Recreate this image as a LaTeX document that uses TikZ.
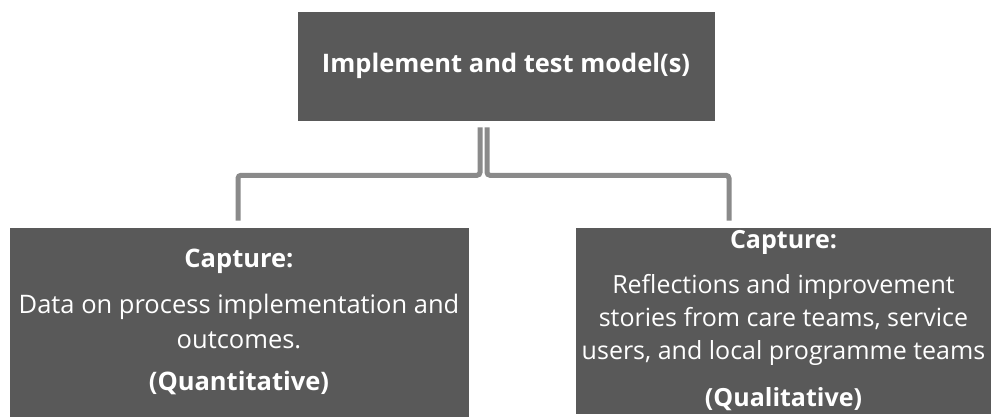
\documentclass[tikz,border=0pt]{standalone}
\usepackage{fontspec}
\setmainfont{Open Sans}
\usetikzlibrary{calc}
\definecolor{boxgray}{HTML}{595959}
\definecolor{linegray}{HTML}{8A8A8A}
\begin{document}
\begin{tikzpicture}[x=1pt,y=-1pt,
  box/.style={rectangle,fill=boxgray,draw=white,line width=0.6pt,text=white,align=center,inner sep=0pt},
  conn/.style={draw=linegray,line width=5pt,rounded corners=3pt,line cap=butt}]
\useasboundingbox[fill=white] (0,0) rectangle (991,416);
\node[box,minimum width=418,minimum height=110,font=\fontsize{25.5}{30}\selectfont\bfseries] (top) at (506,66) {Implement and test model(s)};
\node[box,minimum width=460,minimum height=190,font=\fontsize{25.5}{35.5}\selectfont] (left) at (239,322)
  {\textbf{Capture:}\\[10pt] Data on process implementation and\\ outcomes.\\[6pt] \textbf{(Quantitative)}};
\node[box,minimum width=417,minimum height=187,font=\fontsize{25}{33}\selectfont] (right) at (783.5,320.5)
  {\textbf{Capture:}\\[12pt] Reflections and improvement\\ stories from care teams, service\\ users, and local programme teams\\[14pt] \textbf{(Qualitative)}};
\coordinate (la) at ($(top.south)+(-26,6)$);
\coordinate (lb) at ($(left.north)+(-1,-6)$);
\coordinate (ra) at ($(top.south)+(-19,6)$);
\coordinate (rb) at ($(right.north)+(-54.5,-6)$);
\draw[conn] (la) -- ($(la)+(0,48)$) -| (lb);
\draw[conn] (ra) -- ($(ra)+(0,48)$) -| (rb);
\end{tikzpicture}
\end{document}
